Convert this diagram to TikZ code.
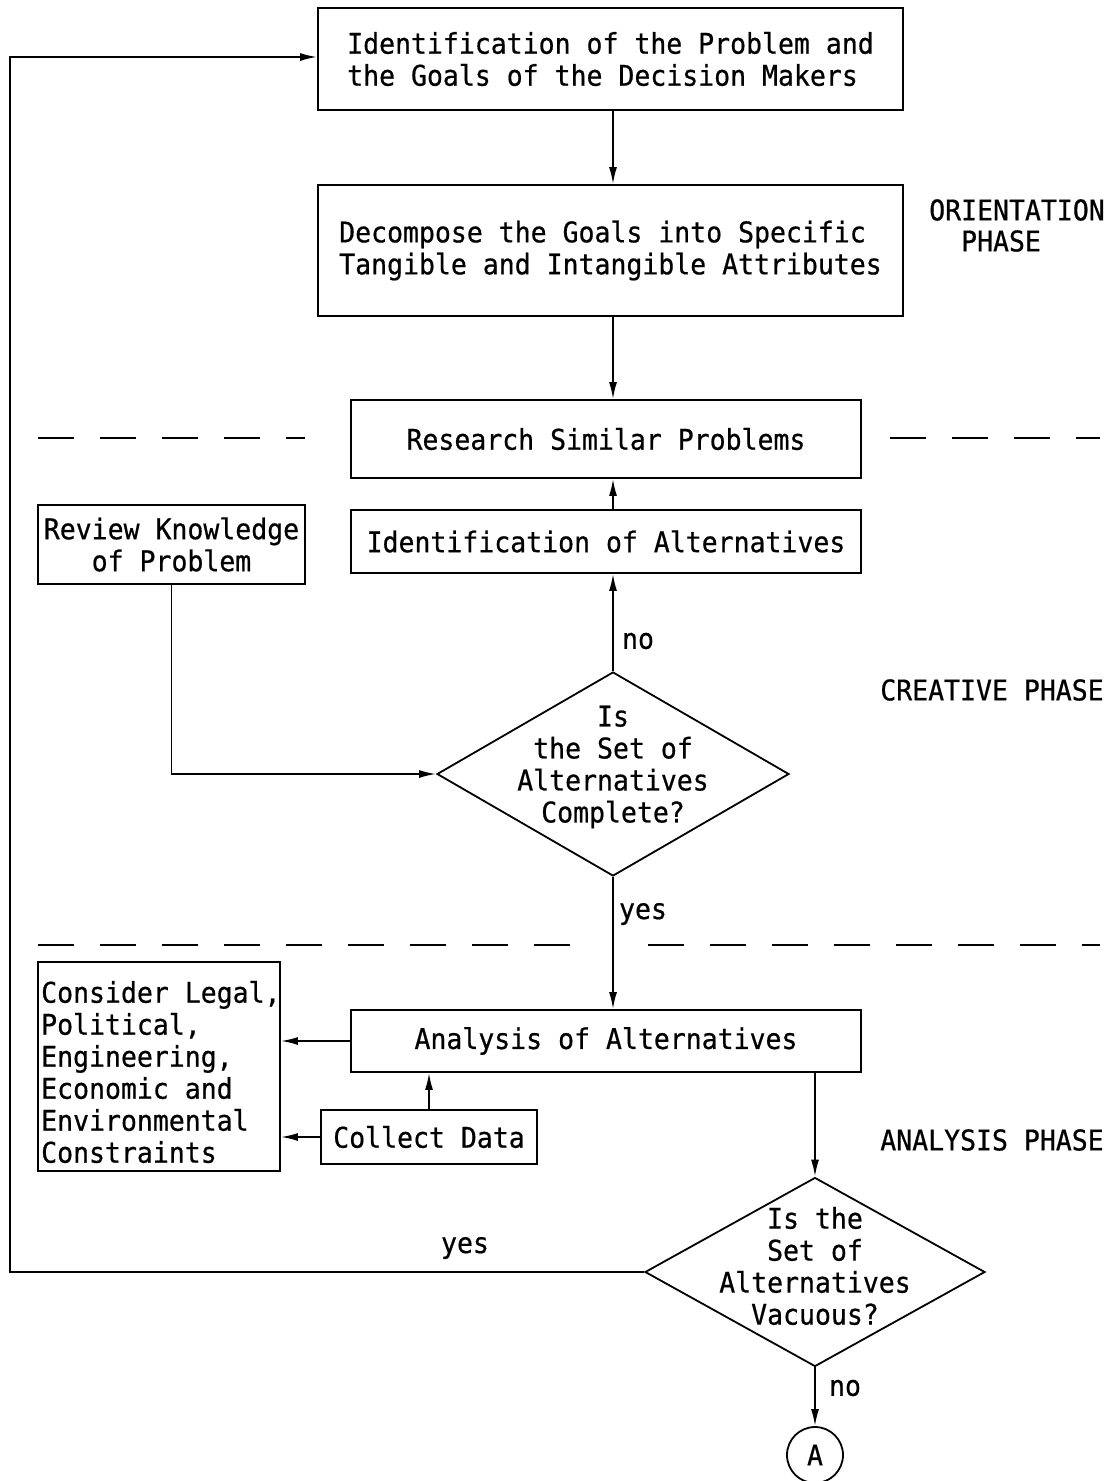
\documentclass[tikz,border=0pt]{standalone}
\usepackage{fontspec}
\newfontfamily\dgm{DejaVu Sans Mono}[FakeStretch=0.93,FakeBold=0.6]
\usetikzlibrary{shapes.geometric,arrows.meta}
\begin{document}
\begin{tikzpicture}[x=1pt,y=-1pt,
  every node/.style={font=\dgm\fontsize{28.5}{32}\selectfont, inner sep=0pt},
  box/.style={draw, line width=1.8pt, align=center},
  dia/.style={draw, diamond, line width=1.8pt},
  arr/.style={line width=1.8pt, -{Latex[length=17pt,width=8pt]}},
  dsh/.style={line width=2.2pt, dash pattern=on 36pt off 26pt},
  lab/.style={align=center},
]
\useasboundingbox (0,0) rectangle (1110,1481);
\fill[white] (0,0) rectangle (1110,1481);

% boxes
\node[box, align=left, minimum width=585, minimum height=102] (b1) at (610.5,59)
  {Identification of the Problem and\\the Goals of the Decision Makers};
\node[box, align=left, minimum width=585, minimum height=131] (b2) at (610.5,250.5)
  {Decompose the Goals into Specific\\Tangible and Intangible Attributes};
\node[box, minimum width=510, minimum height=78] (rs) at (606,439)
  {Research Similar Problems};
\node[box, minimum width=510, minimum height=63] (ia) at (606,541.5)
  {Identification of Alternatives};
\node[box, minimum width=267, minimum height=79] (rv) at (171.5,544.5)
  {Review Knowledge\\of Problem};
\node[box, minimum width=510, minimum height=62] (an) at (606,1041)
  {Analysis of Alternatives};
\node[box, minimum width=216, minimum height=54] (cd) at (429,1137)
  {Collect Data};
\node[box, minimum width=242, minimum height=209] (cs) at (159,1066.5) {};
\node[anchor=west, align=left] (cst) at (41,1072)
  {Consider Legal,\\Political,\\Engineering,\\Economic and\\Environmental\\Constraints};

% decisions
\node[dia, minimum width=352, minimum height=204] (d1) at (613,774) {};
\node[lab] (d1t) at (613,767) {Is\\the Set of\\Alternatives\\Complete?};
\node[dia, minimum width=340, minimum height=189] (d2) at (815,1272) {};
\node[lab] (d2t) at (815,1266) {Is the\\Set of\\Alternatives\\Vacuous?};
\node[draw, circle, line width=1.8pt, minimum size=56] (ca) at (815,1455) {A};

% phase labels
\node (ph1a) at (1017,210) {ORIENTATION};
\node (ph1b) at (1001,241) {PHASE};
\node (ph2) at (992,690) {CREATIVE PHASE};
\node (ph3) at (992,1140) {ANALYSIS PHASE};

% edge labels
\node (l1) at (638,641) {no};
\node (l2) at (643,914) {yes};
\node (l3) at (465,1248) {yes};
\node (l4) at (845,1388) {no};

% dashed separators
\coordinate (s1a) at (38,438); \coordinate (s1b) at (305,438);
\coordinate (s2a) at (890,438); \coordinate (s2b) at (1100,438);
\coordinate (s3a) at (38,945); \coordinate (s3b) at (582,945);
\coordinate (s4a) at (648,945); \coordinate (s4b) at (1100,945);
\draw[dsh] (s1a) -- (s1b);
\draw[dsh] (s2a) -- (s2b);
\draw[dsh] (s3a) -- (s3b);
\draw[dsh] (s4a) -- (s4b);

% connectors
\draw[arr] (b1.south -| d1.north) -- (b2.north -| d1.north);
\draw[arr] (b2.south -| d1.north) -- (rs.north -| d1.north);
\draw[arr] (ia.north -| d1.north) -- (rs.south -| d1.north);
\draw[arr] (d1.north) -- (ia.south -| d1.north);
\draw[arr] (rv.south) |- (d1.west);
\draw[arr] (d1.south) -- (an.north -| d1.south);
\draw[arr] (an.west) -- (an.west -| cs.east);
\draw[arr] (cd.west) -- (cd.west -| cs.east);
\draw[arr] (cd.north) -- (cd.north |- an.south);
\draw[arr] (an.south -| d2.north) -- (d2.north);
\draw[arr] (d2.south) -- (ca.north);
\coordinate (lp1) at (10,1272);
\coordinate (lp2) at (10,57);
\draw[arr] (d2.west) -- (lp1) -- (lp2) -- (b1.west |- lp2);
\end{tikzpicture}
\end{document}
